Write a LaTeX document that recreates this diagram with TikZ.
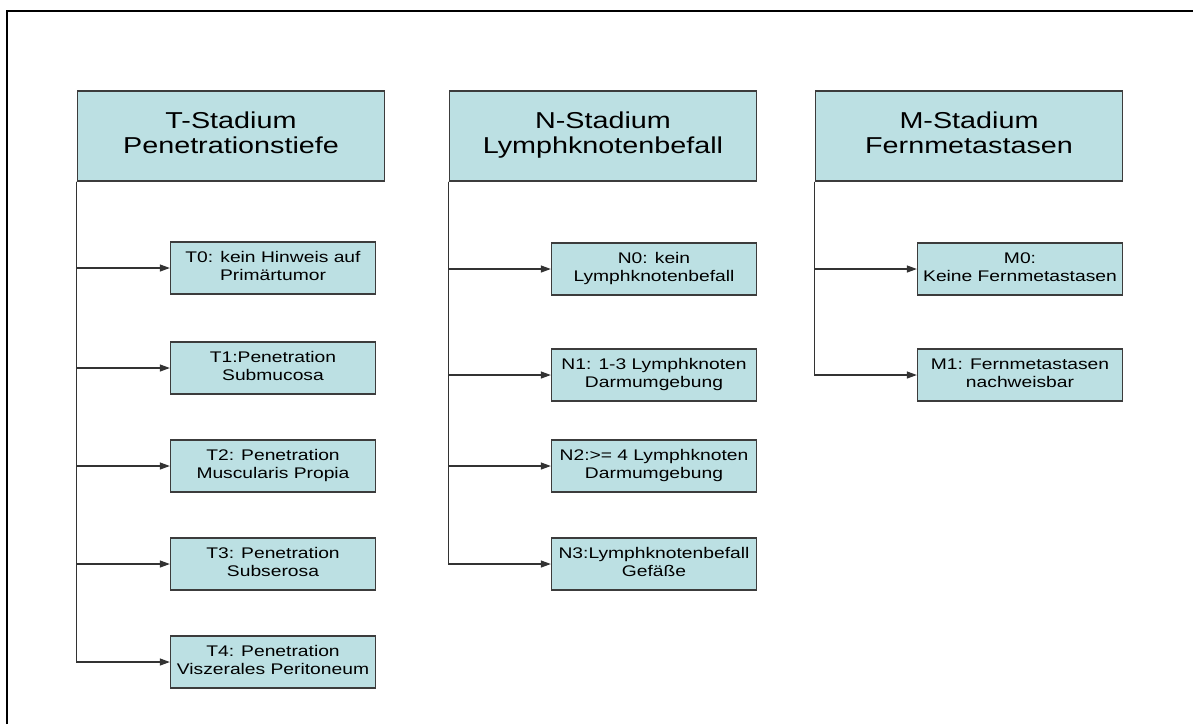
\documentclass[tikz,border=0pt]{standalone}
\usepackage{fontspec}
\usepackage{graphicx}
\setmainfont{Liberation Sans}
\usetikzlibrary{arrows.meta}
\definecolor{boxfill}{RGB}{188,224,227}
\definecolor{boxline}{RGB}{60,60,60}
% the labels are set a quarter wider than the font
\newcommand{\wtext}[1]{\scalebox{1.25}[1]{\begin{tabular}{@{}c@{}}#1\end{tabular}}}
\tikzset{
  head/.style={draw=boxline,line width=1.3pt,fill=boxfill,align=center,
    minimum width=307pt,minimum height=90pt,inner sep=2pt,
    font=\fontsize{23}{25}\selectfont},
  item/.style={draw=boxline,line width=1.3pt,fill=boxfill,align=center,
    minimum width=205pt,minimum height=52pt,inner sep=2pt,
    font=\fontsize{15.4}{18}\selectfont},
  conn/.style={line width=1.2pt,draw=black!80,-{Triangle[length=10pt,width=7pt]}}
}

\begin{document}
\begin{tikzpicture}[x=1pt,y=-1pt]
  \useasboundingbox (0,0) rectangle (1193,724);
  % frame
  \draw[line width=2pt] (7,724) |- (1193,11);

  % T-Stadium
  \node[head] (thead) at (231,136) {\wtext{T-Stadium\\Penetrationstiefe}};
  \node[item] (t0) at (273,268) {\wtext{T0: kein Hinweis auf\\Primärtumor}};
  \node[item] (t1) at (273,368) {\wtext{T1:Penetration\\Submucosa}};
  \node[item] (t2) at (273,466) {\wtext{T2: Penetration\\Muscularis Propia}};
  \node[item] (t3) at (273,564) {\wtext{T3: Penetration\\Subserosa}};
  \node[item] (t4) at (273,662) {\wtext{T4: Penetration\\Viszerales Peritoneum}};
  \draw[conn] (thead.south west) |- (t0);
  \draw[conn] (thead.south west) |- (t1);
  \draw[conn] (thead.south west) |- (t2);
  \draw[conn] (thead.south west) |- (t3);
  \draw[conn] (thead.south west) |- (t4);

  % N-Stadium
  \node[head] (nhead) at (603,136) {\wtext{N-Stadium\\Lymphknotenbefall}};
  \node[item] (n0) at (654,269) {\wtext{N0: kein\\Lymphknotenbefall}};
  \node[item] (n1) at (654,375) {\wtext{N1: 1-3 Lymphknoten\\Darmumgebung}};
  \node[item] (n2) at (654,466) {\wtext{N2:>= 4 Lymphknoten\\Darmumgebung}};
  \node[item] (n3) at (654,564) {\wtext{N3:Lymphknotenbefall\\Gefäße}};
  \draw[conn] (nhead.south west) |- (n0);
  \draw[conn] (nhead.south west) |- (n1);
  \draw[conn] (nhead.south west) |- (n2);
  \draw[conn] (nhead.south west) |- (n3);

  % M-Stadium
  \node[head] (mhead) at (969,136) {\wtext{M-Stadium\\Fernmetastasen}};
  \node[item] (m0) at (1020,269) {\wtext{M0:\\Keine Fernmetastasen}};
  \node[item] (m1) at (1020,375) {\wtext{M1: Fernmetastasen\\nachweisbar}};
  \draw[conn] (mhead.south west) |- (m0);
  \draw[conn] (mhead.south west) |- (m1);
\end{tikzpicture}
\end{document}
